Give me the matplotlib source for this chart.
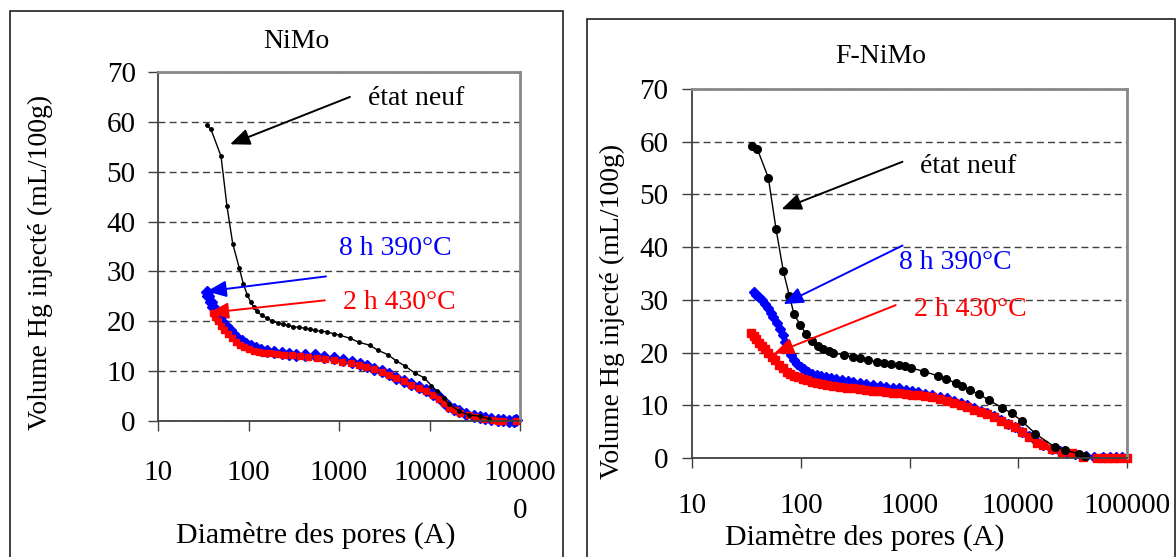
"""Porosimétrie Hg : volume injecté vs diamètre des pores, NiMo et F-NiMo."""
import matplotlib
matplotlib.use("Agg")
import matplotlib.pyplot as plt
from matplotlib.patches import Rectangle

plt.rcParams["font.family"] = ["Liberation Serif", "DejaVu Serif"]

W, H = 1176, 557

# ---- NiMo (left panel) ----
nimo_neuf_d = [34.5, 38.5, 49.7, 57.8, 66.9, 79, 88, 97, 106, 115, 123, 140, 161, 180, 210, 243,
               275, 313, 360, 419, 480, 543, 630, 731, 870, 1025, 1320, 1660, 2180, 2690, 3470,
               4270, 5400, 6900, 8700, 10500, 12100, 14400, 16300, 21300, 27000, 35700, 45400]
nimo_neuf_v = [59.3, 58.5, 53.1, 43.1, 35.6, 30.7, 27.4, 25.3, 23.8, 22.8, 22.0, 21.2, 20.6, 20.1,
               19.7, 19.4, 19.2, 18.9, 18.8, 18.6, 18.4, 18.2, 18.0, 17.9, 17.5, 17.2, 16.6, 15.8,
               15.2, 14.2, 13.3, 12.1, 11.0, 9.6, 8.7, 7.1, 6.0, 4.6, 3.4, 2.0, 1.2, 1.0, 0.4]

nimo_390_d = [34.5, 36, 38.5, 41, 44.5, 48, 51, 56, 61.8, 68, 74.8, 84, 94.6, 107, 120, 138, 159,
              190, 232, 280, 338, 420, 540, 680, 870, 1100, 1390, 1700, 2030, 2450, 2950, 3600,
              4300, 5200, 6300, 7600, 9100, 10800, 12700, 14300, 16000, 18500, 21000, 25000,
              31000, 36000, 41000, 48000, 57000, 65000, 75000, 85000, 91000]
nimo_390_v = [25.8, 25.0, 23.9, 22.8, 21.7, 20.8, 19.9, 19.0, 18.2, 17.4, 16.7, 16.0, 15.5, 15.0,
              14.6, 14.3, 14.0, 13.8, 13.7, 13.5, 13.3, 13.2, 13.2, 12.9, 12.6, 12.3, 11.9, 11.5,
              11.0, 10.5, 10.0, 9.4, 8.7, 8.1, 7.5, 6.8, 6.2, 5.5, 4.8, 3.9, 3.0, 2.4, 2.0, 1.4,
              1.0, 0.8, 0.7, 0.4, 0.2, 0.2, 0.1, 0.1, 0.2]

nimo_430_d = [40.6, 43, 46, 50, 54, 59, 65, 72, 80, 90, 100, 115, 130, 150, 175, 205, 245, 300,
              370, 460, 570, 700, 870, 1080, 1350, 1650, 2000, 2450, 2950, 3600, 4300, 5200, 6300,
              7600, 9100, 10800, 12700, 14500, 16500, 19000, 22000, 27000, 33000, 40000, 50000,
              57000, 65000, 90000]
nimo_430_v = [21.7, 20.9, 20.0, 19.0, 18.2, 17.4, 16.6, 15.9, 15.3, 14.8, 14.5, 14.1, 13.9, 13.7,
              13.6, 13.5, 13.3, 13.2, 13.0, 12.9, 12.7, 12.5, 12.2, 11.9, 11.6, 11.3, 10.9, 10.4,
              9.9, 9.3, 8.7, 8.0, 7.3, 6.6, 6.0, 5.3, 4.5, 3.6, 2.7, 2.2, 1.7, 1.2, 0.9, 0.5, 0.2,
              0.1, 0.1, 0.1]

# ---- F-NiMo (right panel) ----
fnimo_neuf_d = [35.4, 39.9, 50.3, 59.3, 69.2, 78.5, 86.7, 98.6, 111, 127, 143, 161, 180, 198, 251,
                302, 347, 417, 498, 588, 676, 795, 900, 1030, 1370, 1810, 2150, 2680, 3040, 3590,
                4330, 5370, 7100, 8710, 10800, 14400, 21600, 26900, 36300, 41000]
fnimo_neuf_v = [59.2, 58.6, 53.2, 43.4, 35.4, 30.8, 27.3, 25.3, 23.6, 22.2, 21.3, 20.6, 20.3, 20.0,
                19.5, 19.2, 19.0, 18.6, 18.3, 18.1, 17.8, 17.6, 17.4, 17.1, 16.4, 15.6, 15.0, 14.2,
                13.7, 12.9, 12.1, 11.0, 9.5, 8.5, 7.0, 4.6, 2.1, 1.5, 0.8, 0.3]

fnimo_390_d = [37, 39, 41.5, 44, 47, 50, 53, 56, 60, 64, 68, 72, 77, 82, 87, 93, 100, 108, 117, 127,
               140, 155, 172, 190, 212, 240, 270, 305, 350, 400, 460, 530, 610, 700, 800, 920, 1050,
               1200, 1400, 1620, 1900, 2200, 2550, 2950, 3400, 3900, 4500, 5200, 6000, 7000, 8100,
               9300, 10800, 12500, 14500, 17000, 20300, 24000, 28000, 33000, 41700, 50000, 60000,
               70000, 80000, 90000]
fnimo_390_v = [31.5, 31.0, 30.5, 30.0, 29.2, 28.4, 27.6, 26.8, 25.7, 24.5, 23.3, 22.0, 20.5, 19.5,
               18.6, 17.9, 17.3, 16.8, 16.4, 16.0, 15.7, 15.5, 15.3, 15.1, 15.0, 14.8, 14.6, 14.4,
               14.2, 14.0, 13.8, 13.6, 13.4, 13.3, 13.2, 12.9, 12.7, 12.5, 12.2, 11.9, 11.6, 11.3,
               10.9, 10.5, 10.0, 9.5, 9.0, 8.5, 8.0, 7.3, 6.5, 5.8, 5.0, 4.1, 3.2, 2.5, 1.8, 1.3,
               1.0, 0.7, 0.3, 0.1, 0.1, 0.1, 0.1, 0.1]

fnimo_430_d = [35, 37, 39, 41.5, 44, 47, 50, 54, 58, 63, 68, 74, 80, 87, 95, 104, 114, 126, 140, 157,
               176, 200, 230, 265, 305, 350, 400, 460, 530, 610, 700, 800, 920, 1050, 1200, 1400,
               1620, 1900, 2200, 2550, 2950, 3400, 3900, 4500, 5200, 6000, 7000, 8100, 9300, 10800,
               12500, 14800, 17000, 20400, 25500, 31000, 39800, 53000, 60000, 67000, 75000, 85000,
               100000]
fnimo_430_v = [23.7, 23.1, 22.5, 21.9, 21.3, 20.7, 20.0, 19.2, 18.5, 17.7, 17.1, 16.4, 16.0, 15.6,
               15.3, 15.0, 14.8, 14.5, 14.3, 14.1, 13.9, 13.7, 13.5, 13.3, 13.2, 13.0, 12.9, 12.8,
               12.7, 12.5, 12.4, 12.3, 12.2, 12.0, 11.9, 11.7, 11.5, 11.1, 10.8, 10.4, 10.0, 9.6,
               9.2, 8.8, 8.3, 7.7, 7.1, 6.5, 5.8, 5.0, 4.0, 2.8, 2.4, 1.65, 1.2, 0.9, 0.25, 0, 0, 0,
               0, 0, 0]

x_ticks = [10, 100, 1000, 10000, 100000]
y_ticks = [0, 10, 20, 30, 40, 50, 60, 70]
left_xlabels = ["10", "100", "1000", "10000", "10000\n0"]
right_xlabels = ["10", "100", "1000", "10000", "100000"]

FS = 20        # titles, annotations, y labels
TICK_FS = 21   # tick labels
XLAB_FS = 21.5

fig = plt.figure(figsize=(W / 100, H / 100), dpi=100)

# outer frames of the two pasted charts
for x0, y0, x1 in [(10, 11, 563), (587, 19, 1175)]:
    fig.patches.append(Rectangle((x0 / W, -0.1), (x1 - x0) / W, 1.1 - y0 / H,
                                 transform=fig.transFigure, fill=False, ec="#202020", lw=1.2))


def make_axes(px, title, xlabels, title_xy, xlab_xy, ylab_xy, xpad, ypad):
    x0, y0, x1, y1 = px
    ax = fig.add_axes([x0 / W, 1 - y1 / H, (x1 - x0) / W, (y1 - y0) / H])
    ax.set_xscale("log")
    ax.set_xlim(10, 100000)
    ax.set_ylim(0, 70)
    ax.set_xticks(x_ticks, xlabels)
    ax.minorticks_off()
    ax.set_yticks(y_ticks)
    ax.tick_params(labelsize=TICK_FS, length=7, width=1, color="#404040", direction="out")
    ax.tick_params(axis="x", pad=xpad)
    ax.tick_params(axis="y", pad=ypad)
    for lab in ax.get_xticklabels():
        lab.set_linespacing(1.6)
    ax.grid(axis="y", color="#404040", lw=1, ls=(0, (5, 3)))
    ax.set_axisbelow(True)
    for s in ("left", "bottom"):
        ax.spines[s].set_color("#404040")
        ax.spines[s].set_linewidth(1.3)
    for s in ("top", "right"):
        ax.spines[s].set_color("#888888")
        ax.spines[s].set_linewidth(2)
    ax.text(*title_xy, title, transform=ax.transAxes, ha="center", va="center", fontsize=FS)
    ax.set_xlabel("Diamètre des pores (A)", fontsize=XLAB_FS, va="center")
    ax.xaxis.set_label_coords(*xlab_xy)
    ax.set_ylabel("Volume Hg injecté (mL/100g)", fontsize=FS, va="center")
    ax.yaxis.set_label_coords(*ylab_xy)
    return ax


def arrow(ax, head, tail, color):
    ax.annotate("", xy=head, xytext=tail, annotation_clip=False,
                arrowprops=dict(arrowstyle="-|>,head_length=0.6,head_width=0.25", color=color,
                                lw=1.4, mutation_scale=20, shrinkA=0, shrinkB=0))


# left panel
axl = make_axes((158, 72, 520, 421), "NiMo", left_xlabels, (0.381, 1.086),
                (0.436, -0.327), (-0.326, 0.453), 21, 9)
axl.plot(nimo_390_d, nimo_390_v, color="#0000ff", lw=1, marker="D", ms=6.5, mec="#0000ff", clip_on=False)
axl.plot(nimo_430_d, nimo_430_v, color="#ff0000", lw=1, marker="s", ms=4.5, mec="#ff0000", clip_on=False)
axl.plot(nimo_neuf_d, nimo_neuf_v, color="black", lw=1, marker="o", ms=2.5, clip_on=False)
arrow(axl, (62.5, 55.5), (1320, 65.0), "black")
arrow(axl, (34.5, 26.0), (718, 29.0), "#0000ff")
arrow(axl, (36.6, 21.7), (697, 24.2), "#ff0000")
axl.text(2090, 64.7, "état neuf", fontsize=FS, va="center", ha="left")
axl.text(1000, 34.5, "8 h 390°C", fontsize=FS, va="center", ha="left", color="#0000ff")
axl.text(1100, 23.8, "2 h 430°C", fontsize=FS, va="center", ha="left", color="#ff0000")

# right panel
axr = make_axes((692, 89, 1127, 458), "F-NiMo", right_xlabels, (0.434, 1.087),
                (0.398, -0.214), (-0.184, 0.398), 18, 10)
axr.plot(fnimo_390_d, fnimo_390_v, color="#0000ff", lw=1, marker="D", ms=5, mec="#0000ff", clip_on=False)
axr.plot(fnimo_430_d, fnimo_430_v, color="#ff0000", lw=1, marker="s", ms=5.5, mec="#ff0000", clip_on=False)
axr.plot(fnimo_neuf_d, fnimo_neuf_v, color="black", lw=1, marker="o", ms=5.5, clip_on=False)
arrow(axr, (66.6, 47.2), (862, 56.2), "black")
arrow(axr, (69.3, 29.2), (862, 40.3), "#0000ff")
arrow(axr, (56.7, 19.8), (747, 29.0), "#ff0000")
axr.text(1240, 55.3, "état neuf", fontsize=FS, va="center", ha="left")
axr.text(802, 37.1, "8 h 390°C", fontsize=FS, va="center", ha="left", color="#0000ff")
axr.text(1100, 28.2, "2 h 430°C", fontsize=FS, va="center", ha="left", color="#ff0000")

fig.savefig("out.png", dpi=100)
